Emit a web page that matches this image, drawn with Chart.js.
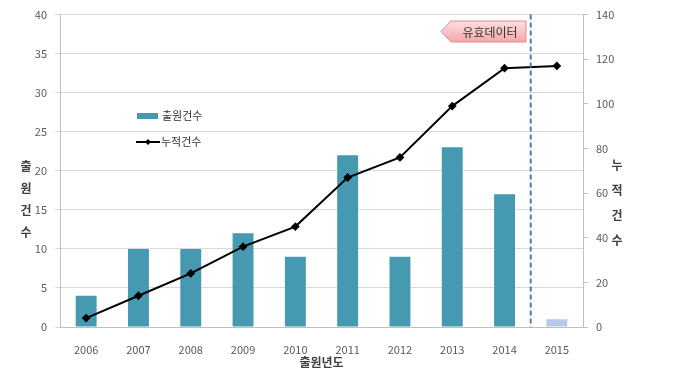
<!DOCTYPE html>
<html>
<head>
<meta charset="utf-8">
<script src="https://cdn.jsdelivr.net/npm/chart.js@4"></script>
<style>
    html, body { margin: 0; padding: 0; background: #fff; }
    #wrap { width: 699px; height: 385px; }
</style>
</head>
<body>
<div id="wrap"><canvas id="patentChart" width="699" height="385"></canvas></div>
<script>
const years = ['2006', '2007', '2008', '2009', '2010', '2011', '2012', '2013', '2014', '2015'];
const filings = [4, 10, 10, 12, 9, 22, 9, 23, 17, 1];
const cumulative = [4, 14, 24, 36, 45, 67, 76, 99, 116, 117];
const leftTicks = [0, 5, 10, 15, 20, 25, 30, 35, 40];
const rightTicks = [0, 20, 40, 60, 80, 100, 120, 140];

const FONT = '"Noto Sans CJK KR", "Noto Sans", sans-serif';
const barColors = years.map(y => y === '2015' ? '#b7c8ea' : '#4599b0');

function drawVertical(ctx, chars, x, y0, step) {
    chars.split('').forEach((c, i) => ctx.fillText(c, x, y0 + i * step));
}

const extras = {
    id: 'extras',
    afterDraw(chart) {
        const ctx = chart.ctx;
        const area = chart.chartArea;
        const xs = chart.scales.x;
        ctx.save();

        // dashed divider between 2014 and 2015
        const xd = (xs.getPixelForValue(8) + xs.getPixelForValue(9)) / 2;
        ctx.strokeStyle = '#4a7ebb';
        ctx.lineWidth = 2;
        ctx.setLineDash([5, 3]);
        ctx.beginPath();
        ctx.moveTo(xd, area.top);
        ctx.lineTo(xd, area.bottom);
        ctx.stroke();
        ctx.setLineDash([]);

        // "유효데이터" tag
        const tx = 441, ty = 21, tw = 85, th = 21;
        const grad = ctx.createLinearGradient(0, ty, 0, ty + th);
        grad.addColorStop(0, '#fde0e0');
        grad.addColorStop(1, '#f4a8a8');
        ctx.fillStyle = grad;
        ctx.strokeStyle = '#e08a8a';
        ctx.lineWidth = 1;
        ctx.beginPath();
        ctx.moveTo(tx, ty + th / 2);
        ctx.lineTo(tx + 10, ty);
        ctx.lineTo(tx + tw, ty);
        ctx.lineTo(tx + tw, ty + th);
        ctx.lineTo(tx + 10, ty + th);
        ctx.closePath();
        ctx.fill();
        ctx.stroke();
        ctx.fillStyle = '#333';
        ctx.font = '12px ' + FONT;
        ctx.textAlign = 'center';
        ctx.textBaseline = 'middle';
        ctx.fillText('유효데이터', tx + 49, ty + th / 2 + 1);

        // legend inside plot
        ctx.textAlign = 'left';
        ctx.font = '11px ' + FONT;
        ctx.fillStyle = '#4599b0';
        ctx.fillRect(137, 113, 21, 6);
        ctx.fillStyle = '#333';
        ctx.fillText('출원건수', 162, 116);
        ctx.strokeStyle = '#000';
        ctx.lineWidth = 2;
        ctx.beginPath();
        ctx.moveTo(136, 142);
        ctx.lineTo(160, 142);
        ctx.stroke();
        ctx.fillStyle = '#000';
        ctx.beginPath();
        ctx.moveTo(148, 139);
        ctx.lineTo(151, 142);
        ctx.lineTo(148, 145);
        ctx.lineTo(145, 142);
        ctx.closePath();
        ctx.fill();
        ctx.fillStyle = '#333';
        ctx.fillText('누적건수', 161, 142);

        // axis titles
        ctx.font = 'bold 12px ' + FONT;
        ctx.textAlign = 'center';
        ctx.fillStyle = '#404040';
        drawVertical(ctx, '출원건수', 26, 166, 22);
        drawVertical(ctx, '누적건수', 617, 165, 25);
        ctx.fillText('출원년도', (area.left + area.right) / 2, 362);
        ctx.restore();
    }
};

const ctx = document.getElementById('patentChart').getContext('2d');
new Chart(ctx, {
    data: {
        labels: years,
        datasets: [{
            type: 'line',
            label: '누적건수',
            data: cumulative,
            yAxisID: 'y2',
            borderColor: '#000',
            backgroundColor: '#000',
            borderWidth: 2,
            pointStyle: 'rectRot',
            pointRadius: 3,
            tension: 0,
            order: 0
        }, {
            type: 'bar',
            label: '출원건수',
            data: filings,
            yAxisID: 'y',
            backgroundColor: barColors,
            categoryPercentage: 1,
            barPercentage: 0.4,
            order: 1
        }]
    },
    options: {
        responsive: false,
        animation: false,
        layout: { padding: { top: 14, left: 0, right: 0, bottom: 0 } },
        plugins: { legend: { display: false }, tooltip: { enabled: false } },
        scales: {
            x: {
                grid: { display: false },
                border: { color: '#bfbfbf' },
                ticks: { color: '#595959', font: { family: FONT, size: 11 }, padding: 8 },
                afterFit(s) { s.height = 58; }
            },
            y: {
                position: 'left',
                min: 0, max: 40,
                afterBuildTicks(s) { s.ticks = leftTicks.map(v => ({ value: v })); },
                grid: { color: '#d9d9d9', drawTicks: true, tickLength: 5 },
                border: { color: '#bfbfbf' },
                ticks: { color: '#595959', font: { family: FONT, size: 11 }, padding: 8 },
                afterFit(s) { s.width = 60; }
            },
            y2: {
                position: 'right',
                min: 0, max: 140,
                afterBuildTicks(s) { s.ticks = rightTicks.map(v => ({ value: v })); },
                grid: { drawOnChartArea: false, color: '#bfbfbf', tickLength: 5 },
                border: { color: '#bfbfbf' },
                ticks: { color: '#595959', font: { family: FONT, size: 11 }, padding: 8 },
                afterFit(s) { s.width = 116; }
            }
        }
    },
    plugins: [extras]
});
</script>
</body>
</html>
